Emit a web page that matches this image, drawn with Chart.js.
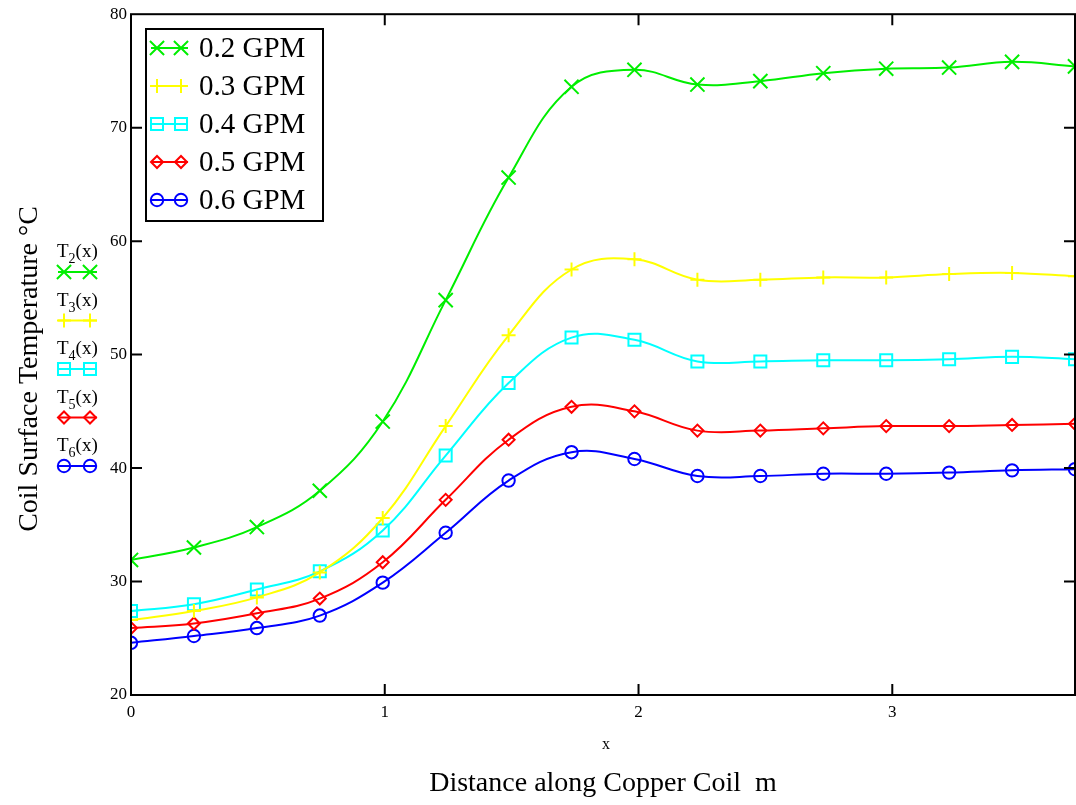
<!DOCTYPE html>
<html>
<head>
<meta charset="utf-8">
<title>Coil Surface Temperature</title>
<script src="https://cdn.jsdelivr.net/npm/chart.js@4.4.1/dist/chart.umd.min.js"></script>
<style>
html, body { margin: 0; padding: 0; background: #fff; overflow: hidden; }
#wrap { width: 1076px; height: 805px; position: relative; }
#coilChart { display: block; }
</style>
</head>
<body>
<div id="wrap"><canvas id="coilChart"></canvas></div>
<script>
// distance along the coil (m), 16 sample points
var xPos = [0, 0.248, 0.496, 0.744, 0.992, 1.24, 1.488, 1.736, 1.984, 2.232, 2.48, 2.728, 2.976, 3.224, 3.472, 3.72];

// surface temperature (C)
var t02 = [31.9, 33.0, 34.8, 38.0, 44.1, 54.8, 65.6, 73.6, 75.1, 73.8, 74.1, 74.8, 75.2, 75.3, 75.8, 75.4];
var t03 = [26.6, 27.4, 28.6, 30.8, 35.6, 43.7, 51.7, 57.5, 58.4, 56.6, 56.6, 56.8, 56.8, 57.1, 57.2, 56.9];
var t04 = [27.4, 28.0, 29.3, 30.9, 34.5, 41.1, 47.5, 51.5, 51.3, 49.4, 49.4, 49.5, 49.5, 49.6, 49.8, 49.6];
var t05 = [25.9, 26.3, 27.2, 28.5, 31.7, 37.2, 42.5, 45.4, 45.0, 43.3, 43.3, 43.5, 43.7, 43.7, 43.8, 43.9];
var t06 = [24.6, 25.2, 25.9, 27.0, 29.9, 34.3, 38.9, 41.4, 40.8, 39.3, 39.3, 39.5, 39.5, 39.6, 39.8, 39.9];

var seriesNames = ['0.2 GPM', '0.3 GPM', '0.4 GPM', '0.5 GPM', '0.6 GPM'];
var traceSubs = ['2', '3', '4', '5', '6'];
var xTickVals = [0, 1, 2, 3];
var yTickVals = [20, 30, 40, 50, 60, 70, 80];

var serif = "'Liberation Serif', 'Times New Roman', serif";
var colors = ['#00ee00', '#ffff00', '#00ffff', '#ff0000', '#0000ff'];
var styles = ['crossRot', 'cross', 'rect', 'rectRot', 'circle'];
var radii = [10, 7, 8.5, 6, 6.2];
var allSeries = [t02, t03, t04, t05, t06];

function pts(vals) {
	return xPos.map(function(x, i) { return {x: x, y: vals[i]}; });
}

var datasets = [];
for (var i = 0; i < allSeries.length; i++) {
	datasets.push({
		label: seriesNames[i],
		data: pts(allSeries[i]),
		borderColor: colors[i],
		backgroundColor: 'rgba(0,0,0,0)',
		borderWidth: 2,
		tension: 0.4,
		pointStyle: styles[i],
		pointRadius: radii[i],
		pointHoverRadius: radii[i],
		pointBorderColor: colors[i],
		pointBackgroundColor: 'rgba(0,0,0,0)',
		pointBorderWidth: 2
	});
}

function marker(ctx, i, x, y) {
	ctx.save();
	ctx.strokeStyle = colors[i];
	ctx.fillStyle = 'rgba(0,0,0,0)';
	ctx.lineWidth = 2;
	Chart.helpers.drawPoint(ctx, {pointStyle: styles[i], radius: radii[i], rotation: 0, borderWidth: 2}, x, y);
	ctx.restore();
}

function sample(ctx, i, x0, x1, y) {
	ctx.save();
	ctx.strokeStyle = colors[i];
	ctx.lineWidth = 2;
	ctx.beginPath();
	ctx.moveTo(x0, y);
	ctx.lineTo(x1, y);
	ctx.stroke();
	ctx.restore();
	marker(ctx, i, x0 + 6, y);
	marker(ctx, i, x1 - 7, y);
}

// frame, inward ticks, legend box, trace labels and axis titles
var decor = {
	id: 'decor',
	afterDraw: function(chart) {
		var ctx = chart.ctx;
		var a = chart.chartArea;
		var xs = chart.scales.x, ys = chart.scales.y;
		ctx.save();
		ctx.strokeStyle = '#000';
		ctx.lineWidth = 2;
		ctx.strokeRect(a.left, a.top, a.right - a.left, a.bottom - a.top);

		ctx.beginPath();
		xTickVals.forEach(function(v) {
			if (v === 0) return;
			var px = xs.getPixelForValue(v);
			ctx.moveTo(px, a.bottom); ctx.lineTo(px, a.bottom - 11);
			ctx.moveTo(px, a.top); ctx.lineTo(px, a.top + 11);
		});
		yTickVals.forEach(function(v) {
			if (v === 20 || v === 80) return;
			var py = ys.getPixelForValue(v);
			ctx.moveTo(a.left, py); ctx.lineTo(a.left + 11, py);
			ctx.moveTo(a.right, py); ctx.lineTo(a.right - 11, py);
		});
		ctx.stroke();

		// legend box
		var lx = 146, ly = 29, lw = 177, lh = 192;
		ctx.fillStyle = '#fff';
		ctx.fillRect(lx, ly, lw, lh);
		ctx.strokeRect(lx, ly, lw, lh);
		ctx.font = '29px ' + serif;
		ctx.textBaseline = 'middle';
		ctx.textAlign = 'left';
		for (var i = 0; i < seriesNames.length; i++) {
			var ry = 48 + i * 38;
			sample(ctx, i, 151, 188, ry);
			ctx.fillStyle = '#000';
			ctx.fillText(seriesNames[i], 199, ry + 1);
		}

		// trace labels on the left
		for (var j = 0; j < traceSubs.length; j++) {
			var by = 257 + j * 48.5;
			ctx.fillStyle = '#000';
			ctx.textBaseline = 'alphabetic';
			ctx.font = '19px ' + serif;
			ctx.fillText('T', 57, by);
			var tw = ctx.measureText('T').width;
			ctx.font = '14px ' + serif;
			ctx.fillText(traceSubs[j], 57 + tw, by + 6);
			var sw = ctx.measureText(traceSubs[j]).width;
			ctx.font = '19px ' + serif;
			ctx.fillText('(x)', 57 + tw + sw, by);
			sample(ctx, j, 58, 97, by + 15);
		}

		// axis titles
		ctx.fillStyle = '#000';
		ctx.textAlign = 'center';
		ctx.textBaseline = 'middle';
		ctx.font = '16px ' + serif;
		ctx.fillText('x', 606, 745);
		ctx.font = '28px ' + serif;
		ctx.fillText('Distance along Copper Coil  m', 603, 784);
		ctx.save();
		ctx.translate(30, 369);
		ctx.rotate(-Math.PI / 2);
		ctx.fillText('Coil Surface Temperature \u00b0C', 0, 0);
		ctx.restore();
		ctx.restore();
	}
};

var chart = new Chart(document.getElementById('coilChart').getContext('2d'), {
	type: 'line',
	data: { datasets: datasets },
	options: {
		responsive: true,
		maintainAspectRatio: false,
		animation: false,
		events: [],
		layout: { autoPadding: false, padding: { top: 12, right: 1, left: 0, bottom: 0 } },
		plugins: {
			legend: { display: false },
			tooltip: { enabled: false }
		},
		scales: {
			x: {
				type: 'linear',
				min: 0,
				max: 3.72,
				afterBuildTicks: function(s) { s.ticks = xTickVals.map(function(v) { return {value: v}; }); },
				afterFit: function(s) { s.height = 110; },
				grid: { display: false, drawTicks: false },
				border: { display: false },
				ticks: { color: '#000', font: { family: serif, size: 17 }, padding: 7, maxRotation: 0 }
			},
			y: {
				min: 20,
				max: 80,
				afterBuildTicks: function(s) { s.ticks = yTickVals.map(function(v) { return {value: v}; }); },
				afterFit: function(s) { s.width = 131; },
				grid: { display: false, drawTicks: false },
				border: { display: false },
				ticks: { color: '#000', font: { family: serif, size: 17 }, padding: 4 }
			}
		}
	},
	plugins: [decor]
});
</script>
</body>
</html>
